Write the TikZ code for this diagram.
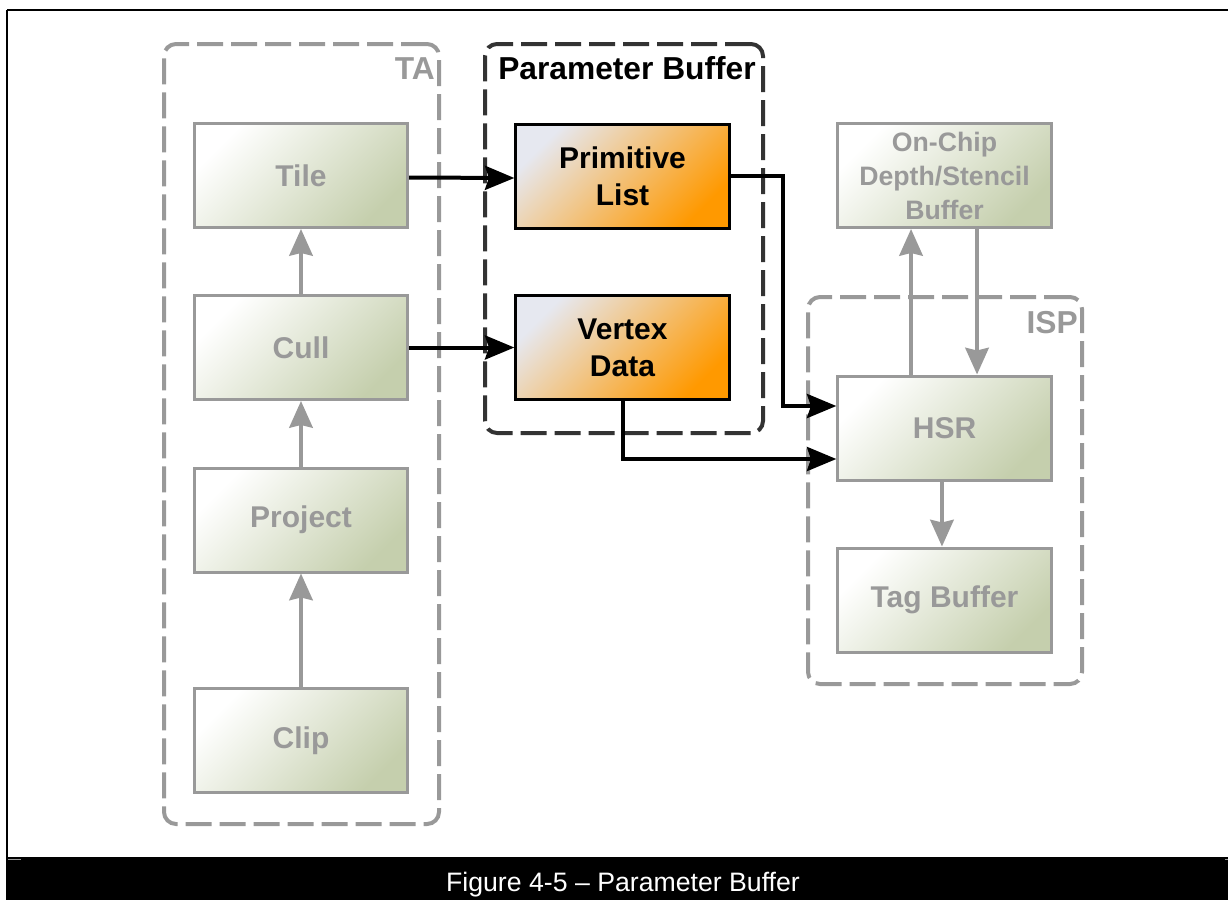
\documentclass[tikz,border=0pt]{standalone}
\usepackage{fontspec}
\setmainfont{Liberation Sans}
\usetikzlibrary{arrows.meta}

\definecolor{lgray}{RGB}{153,153,153}
\definecolor{dgray}{RGB}{51,51,51}
\definecolor{sage}{RGB}{197,207,173}
\definecolor{pale}{RGB}{230,232,240}
\definecolor{amber}{RGB}{255,153,0}

\begin{document}
\begin{tikzpicture}[x=0.75pt,y=-0.75pt,
  stagebox/.style={draw=lgray, line width=2.25pt, top color=white, bottom color=sage,
    shading angle=45, minimum width=160pt, minimum height=78pt, inner sep=0pt,
    text=lgray, align=center, font=\bfseries\fontsize{22.5}{27.75}\selectfont},
  bufbox/.style={draw=black, line width=2.25pt, top color=pale, bottom color=amber,
    shading angle=45, minimum width=160pt, minimum height=78pt, inner sep=0pt,
    text=black, align=center, font=\bfseries\fontsize{22.5}{27.75}\selectfont},
  groupbox/.style={line width=3pt, dash pattern=on 19.5pt off 6pt,
    rounded corners=9pt, inner sep=0pt},
  grouplabel/.style={inner sep=0pt, font=\bfseries\fontsize{23.8}{28}\selectfont},
  grayflow/.style={draw=lgray, line width=3pt, -{Stealth[length=20pt,width=17.5pt,inset=2pt]}},
  blackflow/.style={draw=black, line width=3pt, -{Stealth[length=22pt,width=18pt,inset=3pt]}}
]
\useasboundingbox (0,0) rectangle (1228,900);

% page frame and caption bar
\draw[line width=1.5pt] (7,10) -- (1228,10);
\draw[line width=1.5pt] (7,10) -- (7,857);
\fill[black] (6,857) rectangle (1228,900);
\draw[lgray, line width=0.75pt] (8,859.5) -- (21,859.5);
\draw[lgray, line width=0.75pt] (1225,859.5) -- (1228,859.5);
\node[text=white, anchor=base, inner sep=0pt, font=\fontsize{20}{24}\selectfont]
  (caption) at (623,891) {Figure 4-5 – Parameter Buffer};

% group outlines
\node[groupbox, draw=lgray, minimum width=206.25pt, minimum height=585pt] (ta) at (301.5,434) {};
\node[groupbox, draw=dgray, minimum width=208.5pt, minimum height=291.75pt] (pb) at (624,238.5) {};
\node[groupbox, draw=lgray, minimum width=205.5pt, minimum height=290.25pt] (isp) at (945,490.5) {};

\node[grouplabel, text=lgray, anchor=base east] (talabel) at (435,79) {TA};
\node[grouplabel, text=black, anchor=base west] (pblabel) at (498,79) {Parameter Buffer};
\node[grouplabel, text=lgray, anchor=base east] (isplabel) at (1078,333) {ISP};

% tile accelerator stages
\node[stagebox] (tile) at (301,175.5) {Tile};
\node[stagebox] (cull) at (301,347.5) {Cull};
\node[stagebox] (project) at (301,520) {Project};
\node[stagebox] (clip) at (301,740.5) {Clip};

% parameter buffer contents
\node[bufbox] (prim) at (622.5,176) {Primitive\\List};
\node[bufbox] (vert) at (622.5,347.5) {Vertex\\Data};

% image synthesis processor
\node[stagebox, font=\bfseries\fontsize{20}{25.5}\selectfont] (depth) at (944.5,175.5) {On-Chip\\Depth/Stencil\\Buffer};
\node[stagebox] (hsr) at (944.5,428) {HSR};
\node[stagebox] (tag) at (944.5,600) {Tag Buffer};

% geometry pipeline
\draw[grayflow] (clip.north) -- (project.south);
\draw[grayflow] (project.north) -- (cull.south);
\draw[grayflow] (cull.north) -- (tile.south);

% writes into the parameter buffer
\draw[blackflow] ([yshift=-1.5pt]tile.east) -- ([yshift=-1.5pt]prim.west);
\draw[blackflow] (cull.east) -- (vert.west);

% reads from the parameter buffer
\draw[blackflow] (prim.east) -- ++(52,0) |- ([yshift=16.5pt]hsr.west);
\draw[blackflow] (vert.south) |- ([yshift=-23.25pt]hsr.west);

% depth/stencil traffic and tag output
\draw[grayflow] ([xshift=-25.1pt]hsr.north) -- ([xshift=-25.1pt]depth.south);
\draw[grayflow] ([xshift=24.4pt]depth.south) -- ([xshift=24.4pt]hsr.north);
\draw[grayflow] ([xshift=-1.9pt]hsr.south) -- ([xshift=-1.9pt]tag.north);
\end{tikzpicture}
\end{document}
